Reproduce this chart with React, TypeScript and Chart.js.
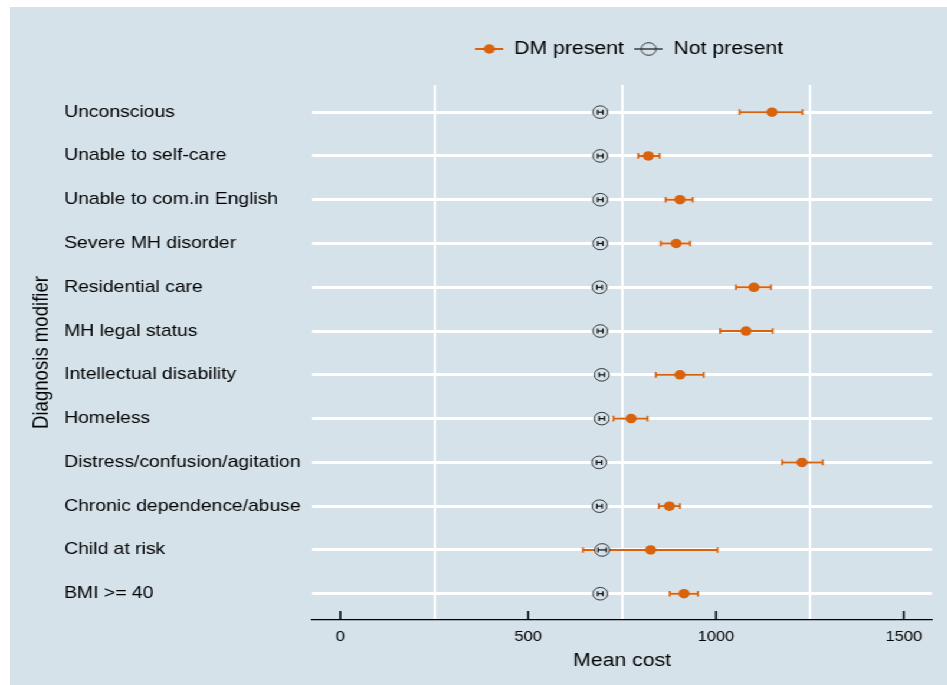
import React, { useEffect, useRef } from 'react';
import { Chart, registerables } from 'chart.js';

Chart.register(...registerables);

// ---------- data ----------
const categories = [
  'Unconscious',
  'Unable to self-care',
  'Unable to com.in English',
  'Severe MH disorder',
  'Residential care',
  'MH legal status',
  'Intellectual disability',
  'Homeless',
  'Distress/confusion/agitation',
  'Chronic dependence/abuse',
  'Child at risk',
  'BMI >= 40',
];
const seriesNames = ['DM present', 'Not present'];

const dmMean = [1149, 820, 904, 894, 1101, 1080, 904, 774, 1229, 876, 826, 915];
const dmLow = [1063, 793, 866, 853, 1053, 1011, 840, 727, 1176, 848, 646, 877];
const dmHigh = [1230, 850, 938, 931, 1146, 1151, 967, 818, 1284, 904, 1004, 952];

const npMean = [692, 692, 692, 692, 690, 692, 696, 696, 689, 690, 697, 692];
const npLow = [685, 685, 685, 685, 683, 685, 689, 689, 682, 683, 686, 685];
const npHigh = [699, 699, 699, 699, 697, 699, 703, 703, 696, 697, 708, 699];

const xTickValues = [0, 500, 1000, 1500];
const xGridValues = [250, 750, 1250];
const xTitle = 'Mean cost';
const yTitle = 'Diagnosis modifier';

// ---------- style ----------
const BG = '#d5e2ea';
const ORANGE = '#d9620c';
const FONT = "'Liberation Sans', Arial, Helvetica, sans-serif";
const SX = 1.18; // horizontal stretch of the original image
const W = 794;
const H = 678;

function makeLegendIcon(kind: 'dm' | 'np'): HTMLCanvasElement {
  const c = document.createElement('canvas');
  c.width = 24;
  c.height = 16;
  const g = c.getContext('2d')!;
  g.beginPath();
  g.moveTo(0, 8);
  g.lineTo(24, 8);
  g.lineWidth = kind === 'dm' ? 2 : 1.3;
  g.strokeStyle = kind === 'dm' ? ORANGE : '#222';
  g.stroke();
  g.beginPath();
  g.arc(12, 8, kind === 'dm' ? 4.75 : 6.3, 0, Math.PI * 2);
  if (kind === 'dm') {
    g.fillStyle = ORANGE;
    g.fill();
  } else {
    g.strokeStyle = '#333';
    g.lineWidth = 1;
    g.stroke();
  }
  return c;
}

const errorBarPlugin = {
  id: 'errorBars',
  beforeDatasetsDraw(chart: any) {
    const { ctx } = chart;
    const xs = chart.scales.x;
    const ys = chart.scales.y;
    ctx.save();
    ctx.strokeStyle = ORANGE;
    dmLow.forEach((lo, i) => {
      const py = ys.getPixelForValue(i);
      const x0 = xs.getPixelForValue(lo);
      const x1 = xs.getPixelForValue(dmHigh[i]);
      ctx.lineWidth = 2;
      ctx.beginPath();
      ctx.moveTo(x0, py);
      ctx.lineTo(x1, py);
      ctx.stroke();
      ctx.lineWidth = 1.7;
      ctx.beginPath();
      ctx.moveTo(x0, py - 2.8);
      ctx.lineTo(x0, py + 2.8);
      ctx.moveTo(x1, py - 2.8);
      ctx.lineTo(x1, py + 2.8);
      ctx.stroke();
    });
    ctx.restore();
  },
  afterDatasetsDraw(chart: any) {
    const { ctx, chartArea } = chart;
    const xs = chart.scales.x;
    const ys = chart.scales.y;
    // small inner CI of the "Not present" markers
    ctx.save();
    ctx.strokeStyle = '#111';
    npLow.forEach((lo, i) => {
      const py = ys.getPixelForValue(i);
      const x0 = xs.getPixelForValue(lo);
      const x1 = xs.getPixelForValue(npHigh[i]);
      ctx.lineWidth = 1.2;
      ctx.beginPath();
      ctx.moveTo(x0, py);
      ctx.lineTo(x1, py);
      ctx.stroke();
      ctx.beginPath();
      ctx.moveTo(x0, py - 2.5);
      ctx.lineTo(x0, py + 2.5);
      ctx.moveTo(x1, py - 2.5);
      ctx.lineTo(x1, py + 2.5);
      ctx.stroke();
    });
    ctx.restore();
    // inward tick marks on x axis
    ctx.save();
    ctx.strokeStyle = '#000';
    ctx.lineWidth = 1.6;
    xTickValues.forEach((v) => {
      const px = xs.getPixelForValue(v);
      ctx.beginPath();
      ctx.moveTo(px, chartArea.bottom);
      ctx.lineTo(px, chartArea.bottom - 9);
      ctx.stroke();
    });
    ctx.restore();
  },
};

const legendShiftPlugin = {
  id: 'legendShift',
  afterLayout(chart: any) {
    const lg = chart.legend;
    if (!lg) return;
    lg.left += 6;
    lg.right += 6;
    lg.top -= 17;
    lg.bottom -= 17;
  },
};

export default function App() {
  const ref = useRef<HTMLCanvasElement>(null);

  useEffect(() => {
    const canvas = ref.current!;
    const dmIcon = makeLegendIcon('dm');
    const npIcon = makeLegendIcon('np');

    const chart = new Chart(canvas, {
      type: 'scatter',
      data: {
        datasets: [
          {
            label: seriesNames[0],
            data: dmMean.map((v, i) => ({ x: v, y: i })),
            backgroundColor: ORANGE,
            borderColor: ORANGE,
            pointRadius: 4.75,
            pointBorderWidth: 0,
            showLine: false,
          },
          {
            label: seriesNames[1],
            data: npMean.map((v, i) => ({ x: v, y: i })),
            backgroundColor: BG,
            borderColor: '#333',
            pointRadius: 6.3,
            pointBorderWidth: 1,
            showLine: false,
          },
        ],
      },
      options: {
        responsive: false,
        animation: false,
        devicePixelRatio: 1,
        events: [],
        layout: { padding: { top: 41, right: 12.6, bottom: 13.2, left: 0 } },
        scales: {
          x: {
            type: 'linear',
            min: -75,
            max: 1575,
            afterBuildTicks: (scale: any) => {
              scale.ticks = [...xTickValues, ...xGridValues]
                .sort((a, b) => a - b)
                .map((v) => ({ value: v }));
            },
            ticks: {
              autoSkip: false,
              maxRotation: 0,
              padding: 8.5,
              color: '#000',
              font: { family: FONT, size: 14 },
              callback: (v: any) => (xTickValues.includes(v) ? String(v) : ''),
            },
            grid: {
              drawTicks: false,
              lineWidth: 2,
              color: (c: any) =>
                c.tick && xGridValues.includes(c.tick.value) ? '#ffffff' : 'rgba(0,0,0,0)',
            },
            border: { display: true, color: '#000', width: 1.3 },
            title: {
              display: true,
              text: xTitle,
              color: '#000',
              font: { family: FONT, size: 18 },
              padding: { top: -3.6, bottom: 0 },
            },
          },
          y: {
            type: 'linear',
            min: -0.62,
            max: 11.6,
            reverse: true,
            afterBuildTicks: (scale: any) => {
              scale.ticks = categories.map((_, i) => ({ value: i }));
            },
            afterFit: (scale: any) => {
              scale.width = 210.1;
            },
            ticks: {
              autoSkip: false,
              crossAlign: 'far',
              color: '#000',
              font: { family: FONT, size: 16.4 },
              callback: (v: any) => categories[v] ?? '',
            },
            grid: { drawTicks: false, lineWidth: 3, color: '#ffffff' },
            border: { display: false },
          },
        },
        plugins: {
          tooltip: { enabled: false },
          title: {
            display: true,
            text: yTitle,
            position: 'left',
            fullSize: false,
            color: '#000',
            font: { family: FONT, size: 18.6, weight: 'normal' },
            padding: { top: 16, bottom: 7.6 },
          },
          legend: {
            display: true,
            position: 'top',
            fullSize: false,
            labels: {
              usePointStyle: true,
              pointStyleWidth: 24,
              padding: 9,
              color: '#000',
              font: { family: FONT, size: 18 },
              generateLabels: () => [
                {
                  text: seriesNames[0],
                  pointStyle: dmIcon,
                  fillStyle: ORANGE,
                  strokeStyle: ORANGE,
                  lineWidth: 0,
                  hidden: false,
                  datasetIndex: 0,
                  fontColor: '#000',
                },
                {
                  text: seriesNames[1],
                  pointStyle: npIcon,
                  fillStyle: BG,
                  strokeStyle: '#333',
                  lineWidth: 0,
                  hidden: false,
                  datasetIndex: 1,
                  fontColor: '#000',
                },
              ],
            },
          },
        },
      } as any,
      plugins: [errorBarPlugin, legendShiftPlugin],
    });

    return () => chart.destroy();
  }, []);

  return (
    <div
      style={{
        position: 'absolute',
        left: 10,
        top: 7,
        width: W,
        height: H,
        background: BG,
        transform: `scaleX(${SX})`,
        transformOrigin: '0 0',
      }}
    >
      <canvas ref={ref} width={W} height={H} style={{ display: 'block' }} />
    </div>
  );
}
